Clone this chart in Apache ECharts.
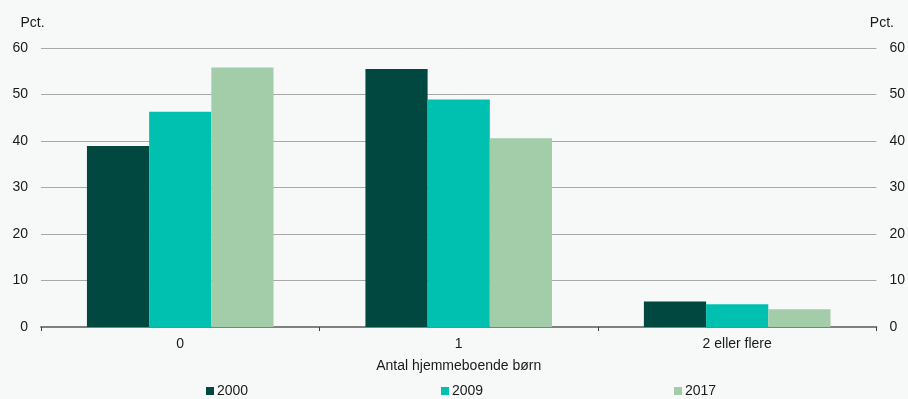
<!DOCTYPE html>
<html>
<head>
<meta charset="utf-8">
<script src="https://cdn.jsdelivr.net/npm/echarts@6/dist/echarts.min.js"></script>
<style>
html,body{margin:0;padding:0;background:#f7f9f9;}
#c{width:908px;height:399px;}
</style>
</head>
<body>
<div id="c"></div>
<script>
const categories = ['0', '1', '2 eller flere'];
const seriesNames = ['2000', '2009', '2017'];
const values2000 = [38.9, 55.5, 5.5];
const values2009 = [46.3, 48.9, 4.9];
const values2017 = [55.8, 40.6, 3.8];
const yTicks = { min: 0, max: 60, interval: 10 };
const xAxisTitle = 'Antal hjemmeboende børn';
const unitLabel = 'Pct.';

const colors = ['#004840', '#00c0b0', '#a3cda8'];
const font = 'Liberation Sans, Arial, sans-serif';
const txt = { color: '#1a1a1a', fontSize: 14, fontFamily: font };

const chart = echarts.init(document.getElementById('c'), null, { renderer: 'canvas' });
const yBase = {
  type: 'value', min: yTicks.min, max: yTicks.max, interval: yTicks.interval,
  axisLine: { show: false }, axisTick: { show: false },
  axisLabel: Object.assign({ margin: 13 }, txt),
  name: unitLabel, nameLocation: 'end', nameGap: 18
};
chart.setOption({
  backgroundColor: '#f7f9f9',
  animation: false,
  color: colors,
  grid: { left: 41, right: 30, top: 48, bottom: 72, containLabel: false },
  legend: [0, 1, 2].map((i) => ({
    data: [seriesNames[i]],
    left: [201, 436, 669][i], top: 379,
    icon: 'rect', itemWidth: 8, itemHeight: 8, itemGap: 0,
    textStyle: Object.assign({ padding: [0, 0, 0, -2] }, txt)
  })),
  xAxis: {
    type: 'category', data: categories,
    axisLine: { lineStyle: { color: '#808080', width: 2 } },
    axisTick: { show: true, length: 4, lineStyle: { color: '#404040', width: 1 } },
    axisLabel: Object.assign({ margin: 10 }, txt),
    name: xAxisTitle, nameLocation: 'middle', nameGap: 32,
    nameTextStyle: txt
  },
  yAxis: [
    Object.assign({}, yBase, {
      position: 'left',
      splitLine: { show: true, lineStyle: { color: '#a8a8a8', width: 1 } },
      nameTextStyle: Object.assign({ align: 'center', padding: [0, 17, 0, 0] }, txt)
    }),
    Object.assign({}, yBase, {
      position: 'right',
      splitLine: { show: false },
      nameTextStyle: Object.assign({ align: 'center', padding: [0, 0, 0, 11] }, txt)
    })
  ],
  series: [values2000, values2009, values2017].map((v, i) => ({
    name: seriesNames[i], type: 'bar', data: v,
    barGap: '0%', barCategoryGap: '33%',
    itemStyle: { color: colors[i] }
  }))
});
</script>
</body>
</html>
